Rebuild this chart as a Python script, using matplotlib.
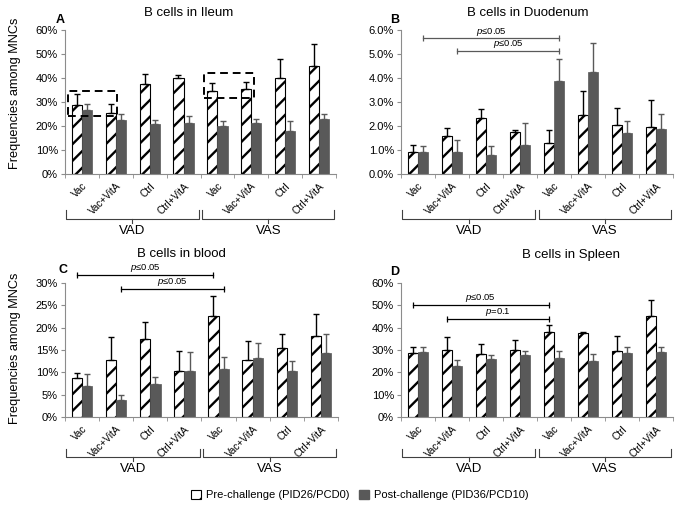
import numpy as np
import matplotlib
matplotlib.use("Agg")
import matplotlib.pyplot as plt
from matplotlib.patches import Rectangle, Patch
import matplotlib.transforms as mtrans

plt.rcParams['font.family'] = ['Liberation Sans', 'DejaVu Sans']
plt.rcParams['mathtext.fontset'] = 'custom'
plt.rcParams['mathtext.rm'] = 'Liberation Sans'
plt.rcParams['mathtext.it'] = 'Liberation Sans:italic'
plt.rcParams['hatch.linewidth'] = 1.7

# ---- data (percent of MNCs) ----
categories = ["Vac", "Vac+VitA", "Ctrl", "Ctrl+VitA", "Vac", "Vac+VitA", "Ctrl", "Ctrl+VitA"]
diet_groups = ["VAD", "VAS"]

ileum_pre = [28.7, 25.3, 37.7, 39.9, 34.6, 35.3, 40.1, 45.0]
ileum_pre_err = [4.6, 3.9, 3.8, 1.5, 3.5, 2.9, 8.0, 9.0]
ileum_post = [26.6, 22.5, 20.8, 21.1, 19.8, 21.1, 18.0, 23.0]
ileum_post_err = [2.4, 2.3, 1.6, 3.0, 2.2, 2.0, 3.9, 1.9]

duod_pre = [0.90, 1.60, 2.35, 1.75, 1.30, 2.45, 2.03, 1.97]
duod_pre_err = [0.32, 0.32, 0.37, 0.10, 0.53, 1.02, 0.70, 1.10]
duod_post = [0.90, 0.93, 0.80, 1.22, 3.87, 4.25, 1.72, 1.88]
duod_post_err = [0.25, 0.47, 0.35, 0.90, 0.93, 1.20, 0.48, 0.64]

blood_pre = [8.7, 12.7, 17.5, 10.3, 22.6, 12.8, 15.5, 18.2]
blood_pre_err = [1.1, 5.2, 3.8, 4.4, 4.6, 4.2, 3.1, 4.8]
blood_post = [7.0, 3.9, 7.4, 10.3, 10.8, 13.1, 10.2, 14.3]
blood_post_err = [2.6, 1.0, 1.6, 4.3, 2.6, 3.5, 2.3, 4.2]

spleen_pre = [28.8, 30.0, 28.2, 29.8, 37.9, 37.5, 29.6, 45.2]
spleen_pre_err = [2.5, 5.9, 4.6, 4.5, 3.1, 0.5, 6.5, 7.3]
spleen_post = [29.0, 22.8, 25.9, 27.6, 26.6, 25.2, 28.6, 29.0]
spleen_post_err = [2.5, 2.6, 1.7, 2.1, 2.9, 2.9, 2.8, 2.4]

# significance brackets: (x start, x end, y, label)
duod_sig = [(0.15, 4.15, 5.65, "$p$≤0.05"), (1.15, 4.15, 5.12, "$p$≤0.05")]
blood_sig = [(-0.15, 3.85, 31.8, "$p$≤0.05"), (1.15, 4.15, 28.7, "$p$≤0.05")]
spleen_sig = [(-0.15, 3.85, 50.3, "$p$≤0.05"), (0.85, 3.85, 43.8, "$p$=0.1")]

# dashed boxes in ileum panel: (x0, x1, y0, y1)
ileum_boxes = [(-0.41, 1.04, 24.2, 34.6), (3.59, 5.07, 31.7, 42.1)]

GRAY = "#595959"
AXC = "#8c8c8c"
W, H = 683, 511

fig = plt.figure(figsize=(6.83, 5.11), dpi=100)


def px_axes(x0, x1, ytop, ybot):
    return fig.add_axes([x0 / W, 1 - ybot / H, (x1 - x0) / W, (ybot - ytop) / H])


def panel(ax, pre, pre_err, post, post_err, ymax, ystep, fmt, below, sig=None, sigcolor="black"):
    x = np.arange(len(categories))
    bw = 0.3
    ax.bar(x - bw / 2, pre, bw, color="white", edgecolor="black", hatch="//", linewidth=0.8,
           yerr=[np.zeros(len(pre)), pre_err], error_kw=dict(ecolor="black", elinewidth=1.0,
                                                               capsize=2.2, capthick=1.0))
    ax.bar(x + bw / 2, post, bw, color=GRAY, edgecolor=GRAY, linewidth=0.5,
           yerr=[np.zeros(len(post)), post_err], error_kw=dict(ecolor=GRAY, elinewidth=1.0,
                                                               capsize=2.2, capthick=1.0))
    ax.set_xlim(-0.5, len(categories) - 0.5)
    ax.set_ylim(0, ymax)
    ticks = np.arange(0, ymax + ystep / 2, ystep)
    ax.set_yticks(ticks)
    ax.set_yticklabels([fmt.format(t) for t in ticks], fontsize=8)
    ax.tick_params(axis="y", length=3, color=AXC, pad=2)
    for s in ["top", "right"]:
        ax.spines[s].set_visible(False)
    for s in ["left", "bottom"]:
        ax.spines[s].set_color(AXC)
        ax.spines[s].set_linewidth(0.8)
    ax.set_xticks(x)
    ax.set_xticklabels(categories, rotation=45, ha="right", rotation_mode="anchor", fontsize=7.2)
    ax.tick_params(axis="x", length=0, pad=5)
    ax.set_xticks(np.arange(-0.5, len(categories)), minor=True)
    ax.tick_params(axis="x", which="minor", length=3, color=AXC)

    # brackets for diet groups
    tr = mtrans.offset_copy(ax.get_xaxis_transform(), fig=fig, y=-below, units="dots")
    trl = mtrans.offset_copy(ax.get_xaxis_transform(), fig=fig, y=-below - 12, units="dots")
    for (a, b), name in zip([(-0.47, 3.45), (3.55, 7.45)], diet_groups):
        ax.plot([a, a, b, b], [0.06, 0, 0, 0.06], transform=tr, color="#404040", lw=0.8, clip_on=False)
        ax.plot([(a + b) / 2] * 2, [0, -0.03], transform=tr, color="#404040", lw=0.8, clip_on=False)
        ax.text((a + b) / 2, 0, name, transform=trl, ha="center", va="center", fontsize=9.5)

    if sig:
        for x0, x1, y, lab in sig:
            ax.plot([x0, x1], [y, y], color=sigcolor, lw=0.9, marker="|", markersize=5,
                    markeredgewidth=0.9, clip_on=False)
            ax.text((x0 + x1) / 2, y + ymax * 0.006, lab, ha="center", va="bottom", fontsize=6.8)


axA = px_axes(65, 336, 30, 174)
panel(axA, ileum_pre, ileum_pre_err, ileum_post, ileum_post_err, 60, 10, "{:.0f}%", 45)
for x0, x1, y0, y1 in ileum_boxes:
    axA.add_patch(Rectangle((x0, y0), x1 - x0, y1 - y0, fill=False, ls=(0, (4, 2.5)),
                            lw=1.4, edgecolor="black", zorder=5))

axB = px_axes(401, 673, 30, 174)
panel(axB, duod_pre, duod_pre_err, duod_post, duod_post_err, 6, 1, "{:.1f}%", 45,
      duod_sig, sigcolor=GRAY)

axC = px_axes(65, 338, 283, 417)
panel(axC, blood_pre, blood_pre_err, blood_post, blood_post_err, 30, 5, "{:.0f}%", 40,
      blood_sig)

axD = px_axes(401, 673, 283, 417)
panel(axD, spleen_pre, spleen_pre_err, spleen_post, spleen_post_err, 60, 10, "{:.0f}%", 40,
      spleen_sig)

# titles, panel letters, y labels
for txt, (x, y) in [("B cells in Ileum", (189, 13)), ("B cells in Duodenum", (528, 13)),
                    ("B cells in blood", (181, 254)), ("B cells in Spleen", (571, 255))]:
    fig.text(x / W, 1 - y / H, txt, ha="center", va="center", fontsize=9.5)
for txt, (x, y) in [("A", (60, 20)), ("B", (395, 20)), ("C", (63, 270)), ("D", (395, 272))]:
    fig.text(x / W, 1 - y / H, txt, ha="center", va="center", fontsize=9, fontweight="bold")
for y in [93, 348]:
    fig.text(15 / W, 1 - y / H, "Frequencies among MNCs", rotation=90, ha="center", va="center",
             fontsize=9.2)

handles = [Patch(facecolor="white", edgecolor="black", hatch="/", lw=0.8),
           Patch(facecolor=GRAY, edgecolor=GRAY)]
fig.legend(handles, ["Pre-challenge (PID26/PCD0)", "Post-challenge (PID36/PCD10)"],
           loc="center", bbox_to_anchor=(360 / W, 1 - 495 / H), ncol=2, frameon=False,
           fontsize=8, handlelength=0.9, handleheight=0.9, handletextpad=0.4, columnspacing=0.9)

fig.savefig("out.png", dpi=100)
plt.close(fig)
